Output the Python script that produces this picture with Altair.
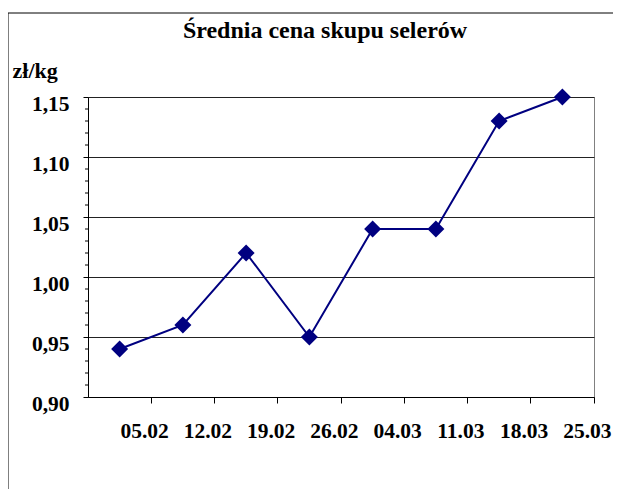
import altair as alt
import pandas as pd

dates = ["05.02", "12.02", "19.02", "26.02", "04.03", "11.03", "18.03", "25.03"]
prices = [0.94, 0.96, 1.02, 0.95, 1.04, 1.04, 1.13, 1.15]
major_ticks = [0.90, 0.95, 1.00, 1.05, 1.10, 1.15]
minor_ticks = [0.91, 0.92, 0.93, 0.94, 0.96, 0.97, 0.98, 0.99, 1.01, 1.02, 1.03, 1.04,
               1.06, 1.07, 1.08, 1.09, 1.11, 1.12, 1.13, 1.14]
title_text = "Średnia cena skupu selerów"
unit_text = "zł/kg"

df = pd.DataFrame({"date": dates, "price": prices})
minor_df = pd.DataFrame({"price": minor_ticks})

FONT = "Liberation Serif"
NAVY = "#000080"

xenc = alt.X(
    "date:O",
    sort=dates,
    scale=alt.Scale(type="band", paddingInner=0, paddingOuter=0),
    axis=alt.Axis(
        title=None, labelAngle=0, bandPosition=1, grid=False,
        labelFont=FONT, labelFontSize=21.5, labelFontWeight="bold", labelColor="black",
        labelPadding=17, labelOffset=25, tickSize=6, tickColor="black",
        domainColor="black", labelBaseline="top",
    ),
)
yscale = alt.Scale(domain=[0.90, 1.15], nice=False, zero=False)

yenc = alt.Y(
    "price:Q",
    scale=yscale,
    axis=alt.Axis(
        values=major_ticks, grid=True, gridColor="#222222", gridWidth=1, gridOpacity=1,
        labelExpr="replace(format(datum.value, '.2f'), '.', ',')",
        labelFont=FONT, labelFontSize=21.5, labelFontWeight="bold", labelColor="black",
        labelPadding=14, labelOffset=7, tickSize=5, tickColor="black", domainColor="black",
        title=unit_text, titleAngle=0, titleAlign="left", titleBaseline="alphabetic",
        titleX=-76, titleY=-20, titleFont=FONT, titleFontSize=22, titleFontWeight="bold",
        titleColor="black",
    ),
)

frame = alt.Chart(pd.DataFrame({"f": [0]})).mark_rect(
    fill=None, stroke="black", strokeWidth=1
).encode(
    x=alt.value(-80), x2=alt.value(700), y=alt.value(-84), y2=alt.value(600)
)

title = alt.Chart(pd.DataFrame({"t": [title_text]})).mark_text(
    font=FONT, fontSize=24, fontWeight="bold", color="black",
    align="center", baseline="alphabetic",
).encode(text="t:N", x=alt.value(237), y=alt.value(-59))

line = alt.Chart(df).mark_line(color=NAVY, strokeWidth=2).encode(x=xenc, y=yenc)
pts = alt.Chart(df).mark_point(
    shape="diamond", filled=True, color=NAVY, size=290, opacity=1
).encode(x=xenc, y=alt.Y("price:Q", scale=yscale))

minor = alt.Chart(minor_df).mark_rule(color="black", strokeWidth=1).encode(
    y=alt.Y("price:Q", scale=yscale),
    x=alt.value(-3), x2=alt.value(0),
)

chart = alt.layer(line, minor, pts, frame, title).properties(
    width=506, height=300,
    padding={"left": 80, "top": 89, "right": 19, "bottom": 92},
    autosize=alt.AutoSizeParams(type="none"),
).configure_view(stroke="#808080", strokeWidth=1)

chart.save("out.html", embed_options={"renderer": "svg", "actions": False})
